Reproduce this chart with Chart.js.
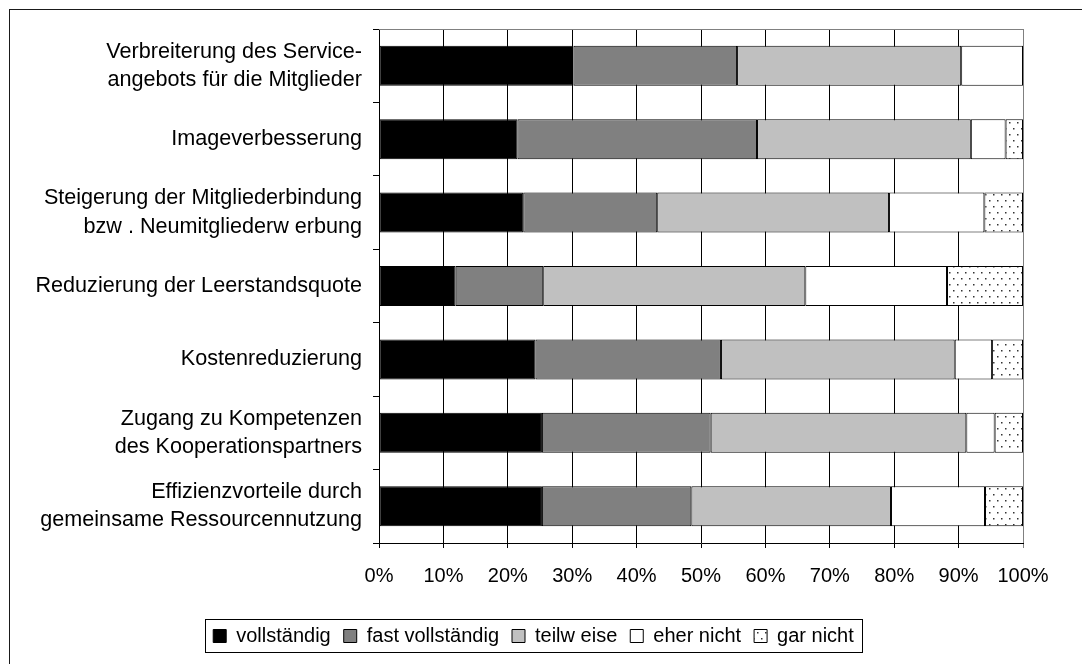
<!DOCTYPE html>
<html>
<head>
<meta charset="utf-8">
<script src="https://cdn.jsdelivr.net/npm/chart.js@4"></script>
<style>
  html, body { margin: 0; padding: 0; background: #fff; }
  #wrap { width: 1082px; height: 664px; }
</style>
</head>
<body>
<div id="wrap"><canvas id="chart" width="1082" height="664"></canvas></div>
<script>
// Data (percent of answers)
const categories = [
  ['Verbreiterung des Service-', 'angebots für die Mitglieder'],
  'Imageverbesserung',
  ['Steigerung der Mitgliederbindung', 'bzw . Neumitgliederw erbung'],
  'Reduzierung der Leerstandsquote',
  'Kostenreduzierung',
  ['Zugang zu Kompetenzen', 'des Kooperationspartners'],
  ['Effizienzvorteile durch', 'gemeinsame Ressourcennutzung']
];
const seriesNames = ['vollständig', 'fast vollständig', 'teilw eise', 'eher nicht', 'gar nicht'];
const vollstaendig     = [30.2, 21.5, 22.4, 11.9, 24.3, 25.3, 25.3];
const fastVollstaendig = [25.4, 37.2, 20.8, 13.6, 28.8, 26.2, 23.2];
const teilweise        = [34.8, 33.2, 36.0, 40.7, 36.3, 39.7, 31.0];
const eherNicht        = [9.6, 5.4, 14.8, 22.0, 5.8, 4.4, 14.6];
const garNicht         = [0, 2.7, 6.0, 11.8, 4.8, 4.4, 5.9];
const xTicks = [0, 10, 20, 30, 40, 50, 60, 70, 80, 90, 100];

// dotted fill for "gar nicht"
function dotPattern() {
  const c = document.createElement('canvas');
  c.width = 8; c.height = 12;
  const g = c.getContext('2d');
  g.fillStyle = '#fff';
  g.fillRect(0, 0, 8, 12);
  g.fillStyle = '#333';
  g.fillRect(1, 2, 1.5, 1.5);
  g.fillRect(5, 8, 1.5, 1.5);
  return document.getElementById('chart').getContext('2d').createPattern(c, 'repeat');
}

const fills = ['#000000', '#808080', '#c0c0c0', '#ffffff', dotPattern()];
const values = [vollstaendig, fastVollstaendig, teilweise, eherNicht, garNicht];

Chart.defaults.font.family = '"Liberation Sans", Arial, sans-serif';
Chart.defaults.font.size = 20;
Chart.defaults.color = '#000';

// outer frame, plot top border and legend box
const framePlugin = {
  id: 'frame',
  afterLayout(chart) {
    // legend sits a bit right of the canvas centre
    chart.legend.left += 22;
    chart.legend.right += 22;
  },
  beforeDraw(chart) {
    const ctx = chart.ctx;
    ctx.save();
    ctx.fillStyle = '#fff';
    ctx.fillRect(0, 0, chart.width, chart.height);
    ctx.strokeStyle = '#1a1a1a';
    ctx.lineWidth = 1;
    ctx.strokeRect(9.5, 9.5, 1200, 800);
    ctx.restore();
  },
  beforeDatasetsDraw(chart) {
    const { ctx, chartArea: a } = chart;
    ctx.save();
    ctx.strokeStyle = '#808080';
    ctx.lineWidth = 1;
    ctx.beginPath();
    ctx.moveTo(a.left, a.top + 0.5);
    ctx.lineTo(a.right, a.top + 0.5);
    ctx.stroke();
    ctx.restore();
  },
  afterDraw(chart) {
    const boxes = chart.legend.legendHitBoxes;
    if (!boxes || !boxes.length) return;
    const first = boxes[0], last = boxes[boxes.length - 1];
    const l = Math.round(first.left - 8) + 0.5;
    const r = Math.round(last.left + last.width + 8) + 0.5;
    const t = Math.round(first.top - 7) + 0.5;
    const b = Math.round(first.top + first.height + 6) + 0.5;
    const ctx = chart.ctx;
    ctx.save();
    ctx.strokeStyle = '#000';
    ctx.lineWidth = 1;
    ctx.strokeRect(l, t, r - l, b - t);
    ctx.restore();
  }
};

new Chart(document.getElementById('chart'), {
  type: 'bar',
  data: {
    labels: categories,
    datasets: seriesNames.map((name, i) => ({
      label: name,
      data: values[i],
      backgroundColor: fills[i],
      borderColor: '#000',
      borderWidth: 1,
      borderSkipped: false,
      barPercentage: 0.545,
      categoryPercentage: 1
    }))
  },
  options: {
    indexAxis: 'y',
    responsive: false,
    animation: false,
    layout: { padding: { left: 0, right: 59, top: 29, bottom: 8 } },
    scales: {
      x: {
        stacked: true,
        min: 0,
        max: 100,
        afterBuildTicks: (s) => { s.ticks = xTicks.map(v => ({ value: v })); },
        afterFit: (s) => { s.height = 70; },
        ticks: { callback: (v) => v + '%', padding: 16, maxRotation: 0 },
        grid: {
          color: (c) => (c.tick && c.tick.value === 100 ? '#808080' : '#000'),
          lineWidth: 1,
          tickLength: 5
        },
        border: { color: '#000', width: 1 }
      },
      y: {
        stacked: true,
        afterFit: (s) => { s.width = 379; s.paddingTop = 0; s.paddingBottom = 0; },
        ticks: { padding: 11, font: { size: 21.6, lineHeight: 1.3 } },
        grid: { drawOnChartArea: false, drawTicks: true, tickLength: 6, color: '#000' },
        border: { color: '#000', width: 1 }
      }
    },
    plugins: {
      tooltip: { enabled: false },
      legend: {
        position: 'bottom',
        labels: { boxWidth: 13, boxHeight: 13, padding: 13, font: { size: 20 } }
      }
    }
  },
  plugins: [framePlugin]
});
</script>
</body>
</html>
